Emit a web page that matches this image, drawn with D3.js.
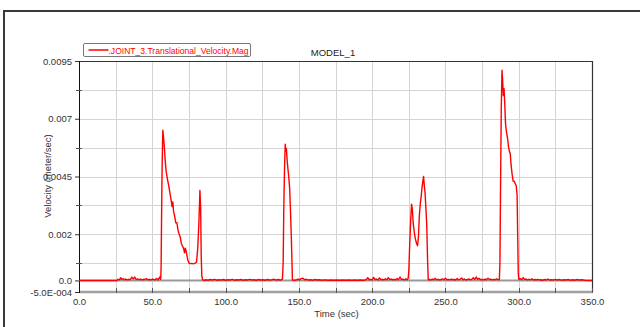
<!DOCTYPE html>
<html lang="en">
<head>
    <meta charset="UTF-8">
    <title>MODEL_1</title>
    <script src="https://cdnjs.cloudflare.com/ajax/libs/d3/7.8.5/d3.min.js"></script>
    <style>
        body {
            margin: 0;
            background: #fff;
        }

        svg {
            display: block;
            font-family: "Liberation Sans", Arial, sans-serif;
        }

        .grid line {
            stroke: #d4d4d4;
            stroke-width: 1;
        }

        .tick text {
            fill: #333;
            font-size: 9.5px;
        }

        .axis-label {
            fill: #333;
            font-size: 9.5px;
            text-anchor: middle;
        }
    </style>
</head>
<body>
    <div id="wrapper"></div>
    <script>
        // ---- data ----
        const seriesName = '.JOINT_3.Translational_Velocity.Mag'
        const chartTitle = 'MODEL_1'
        const xLabel = 'Time (sec)'
        const yLabel = 'Velocity (meter/sec)'

        const xTickValues = [0, 50, 100, 150, 200, 250, 300, 350]
        const xGridValues = [0, 25, 50, 75, 100, 125, 150, 175, 200, 225, 250, 275, 300, 325, 350]
        const yTickValues = [0.0095, 0.007, 0.0045, 0.002, 0.0, -0.0005]
        const yTickLabels = ['0.0095', '0.007', '0.0045', '0.002', '0.0', '-5.0E-004']
        const yGridValues = [0.0095, 0.00825, 0.007, 0.00575, 0.0045, 0.00325, 0.002, 0.00075, -0.0005]

        // [time (sec), velocity (m/s)]
        const quietStart = [
            [0, 0], [26, 0], [26.5, 0.00005], [27.5, 0.00002], [28.5, 0.00012], [29, 0.00004],
            [30, 0.00008], [31, 0.00003], [32, 0.00006], [33, 0.00002], [34, 0.00005],
            [35, 0.00003], [36, 0.00014], [37, 0.00006], [38, 0.00015], [39, 0.00004],
            [40, 0.00007], [41, 0.00003], [42, 0.00006], [43, 0.00002], [44, 0.00005],
            [45, 0.00004], [46, 0.00008], [47, 0.00003], [48, 0.00005], [49, 0.00002],
            [50, 0.00006], [51, 0.00004], [52, 0.00003], [53, 0.00009], [54, 0.00002],
            [55, 0.00015], [55.7, 0.00004]
        ]
        const pulse1 = [
            [56.0, 0.0005], [56.3, 0.0025], [56.7, 0.0049], [57.2, 0.0065], [57.7, 0.0062],
            [58.2, 0.0058], [58.8, 0.0052], [59.5, 0.0047], [60.3, 0.0044], [61.2, 0.0041],
            [62.0, 0.0038], [62.8, 0.0035], [63.5, 0.0032], [64.0, 0.0034], [64.5, 0.0030],
            [65.2, 0.0028], [66.0, 0.0025], [66.8, 0.0025], [67.5, 0.0022], [68.3, 0.0020],
            [69.0, 0.0019], [69.8, 0.0016], [70.5, 0.0015], [71.3, 0.0014], [72.0, 0.0012],
            [72.5, 0.0014], [73.0, 0.0013], [73.6, 0.0011], [74.2, 0.0009], [75.0, 0.00075],
            [76.0, 0.00073], [77.0, 0.00074], [78.0, 0.00072], [79.0, 0.00074], [80.2, 0.0008],
            [81.0, 0.0014], [81.8, 0.0025], [82.5, 0.0039], [83.0, 0.0031], [83.4, 0.0010],
            [83.8, 0.0002], [84.3, 0.00003]
        ]
        const quietMid1 = [
            [85.5, 0], [86.5, 0.00003], [88, 0.00001], [89.5, 0.00004], [91, 0.00002],
            [92.5, 0.00005], [94, 0.00001], [95.5, 0.00003], [97, 0.00002], [98.5, 0.00004],
            [100, 0.00001], [101.5, 0.00003], [103, 0.00002], [104.5, 0.00005], [106, 0.00001],
            [107.5, 0.00003], [109, 0.00002], [110.5, 0.00004], [112, 0.00001], [113.5, 0.00003],
            [115, 0.00002], [116.5, 0.00005], [118, 0.00002], [119.5, 0.00003], [121, 0.00001],
            [122.5, 0.00004], [124, 0.00002], [125.5, 0.00003], [127, 0.00001], [128.5, 0.00004],
            [130, 0.00002], [131.5, 0.00003], [133, 0.00005], [134.5, 0.00002], [136, 0.00004],
            [137.5, 0.00001], [138.8, 0.00006]
        ]
        const pulse2 = [
            [139.3, 0.0008], [139.7, 0.0030], [140.2, 0.0048], [140.7, 0.0059], [141.1, 0.0056],
            [141.5, 0.0057], [142.0, 0.0052], [142.6, 0.0048], [143.1, 0.0045], [143.7, 0.0040],
            [144.3, 0.0030], [144.9, 0.0018], [145.3, 0.0008], [145.6, 0.00002]
        ]
        const quietMid2 = [
            [147, 0.00001], [148.5, 0.00003], [149.5, 0.00006], [150.5, 0.00002], [151.5, 0.00008],
            [152.8, 0.0001], [153.8, 0.00003], [155, 0.00005], [156.5, 0.00002], [158, 0.00003],
            [159.5, 0.00001], [161, 0.00004], [162.5, 0.00002], [164, 0.00003], [165.5, 0.00001],
            [167, 0.00002], [168.5, 0.00002], [170, 0.00001], [172, 0.00002], [174, 0.00001],
            [176, 0.00002], [178, 0.00001], [180, 0.00002], [182, 0.00001], [184, 0.00002],
            [186, 0.00001], [188, 0.00002], [190, 0.00001], [192, 0.00002], [194, 0.00001],
            [196, 0.00003], [197, 0.00012], [198, 0.00003], [199, 0.00005], [200, 0.00002],
            [201, 0.00013], [202, 0.00004], [203, 0.00006], [204, 0.00002], [205, 0.00011],
            [206, 0.00003], [207, 0.00005], [208, 0.00002], [209, 0.00007], [210, 0.00003],
            [211, 0.00012], [212, 0.00004], [213, 0.00006], [214, 0.00003], [215, 0.00005],
            [216, 0.00002], [217, 0.00008], [218, 0.00003], [219, 0.00015], [220, 0.00004],
            [221, 0.00006], [222, 0.00002], [223, 0.00007], [224, 0.00003], [224.6, 0.0001]
        ]
        const pulse3 = [
            [225.0, 0.0004], [225.6, 0.0015], [226.3, 0.0026], [226.9, 0.0033], [227.4, 0.0031],
            [228.0, 0.0025], [228.7, 0.0021], [229.5, 0.0018], [230.3, 0.0016], [231.0, 0.0015],
            [231.6, 0.0019], [232.2, 0.0028], [232.8, 0.0033], [233.4, 0.0036], [234.0, 0.0040],
            [234.6, 0.0043], [235.1, 0.0045], [235.6, 0.0041], [236.1, 0.0038], [236.7, 0.0031],
            [237.2, 0.0025], [237.6, 0.0015], [237.9, 0.0007], [238.3, 0.00003]
        ]
        const quietMid3 = [
            [239, 0.00004], [240, 0.00002], [241, 0.00006], [242, 0.00003], [243, 0.00009],
            [244, 0.00003], [245, 0.00005], [246, 0.00002], [247, 0.00004], [248, 0.00007],
            [249, 0.00003], [250, 0.0001], [251, 0.00003], [252, 0.00005], [253, 0.00002],
            [254, 0.00006], [255, 0.00003], [256, 0.00004], [257, 0.00002], [258, 0.00008],
            [259, 0.00003], [260, 0.00005], [261, 0.00011], [262, 0.00003], [263, 0.00006],
            [264, 0.00002], [265, 0.00004], [266, 0.00007], [267, 0.00003], [268, 0.00005],
            [269, 0.00012], [270, 0.00004], [271, 0.00015], [272, 0.00005], [273, 0.00009],
            [274, 0.00003], [275, 0.00005], [276, 0.00002], [277, 0.00006], [278, 0.00003],
            [279, 0.0001], [280, 0.00004], [281, 0.00006], [282, 0.00002], [283, 0.00005],
            [284, 0.00003], [285, 0.00007], [286, 0.00003], [286.8, 0.00005]
        ]
        const pulse4 = [
            [287.2, 0.0008], [287.6, 0.0040], [288.1, 0.0075], [288.6, 0.0091], [289.0, 0.0087],
            [289.5, 0.0080], [290.0, 0.0083], [290.5, 0.0076], [291.0, 0.0068], [291.5, 0.0065],
            [292.0, 0.0063], [292.5, 0.0061], [293.0, 0.0058], [293.6, 0.0056], [294.2, 0.0055],
            [294.8, 0.0050], [295.5, 0.0046], [296.2, 0.0043], [296.9, 0.0043], [297.6, 0.0042],
            [298.3, 0.0041], [298.9, 0.0037], [299.3, 0.0020], [299.7, 0.0003], [300.1, 0.00004]
        ]
        const quietEnd = [
            [301, 0.00008], [302, 0.00003], [303, 0.00012], [304, 0.00004], [305, 0.00006],
            [306, 0.00002], [307, 0.00005], [308, 0.00003], [309, 0.00007], [310, 0.00002],
            [311, 0.00004], [312, 0.00002], [313, 0.00005], [314, 0.00002], [315, 0.00003],
            [316, 0.00001], [318, 0.00004], [319, 0.00002], [320, 0.00006], [321, 0.00002],
            [322, 0.00003], [324, 0.00002], [325, 0.00005], [326, 0.00002], [328, 0.00004],
            [329, 0.00001], [331, 0.00003], [332, 0.00002], [334, 0.00004], [335, 0.00001],
            [337, 0.00003], [338, 0.00001], [340, 0.00004], [341, 0.00002], [343, 0.00003],
            [345, 0.00001], [350, 0]
        ]

        function drawChart() {
            const dataset = [].concat(quietStart, pulse1, quietMid1, pulse2, quietMid2,
                pulse3, quietMid3, pulse4, quietEnd)
            const xAccessor = d => d[0]
            const yAccessor = d => d[1]

            let dimensions = {
                width: 640,
                height: 327,
                margin: { top: 61, right: 48, bottom: 35, left: 79 }
            }
            dimensions.boundedWidth = dimensions.width - dimensions.margin.left - dimensions.margin.right
            dimensions.boundedHeight = dimensions.height - dimensions.margin.top - dimensions.margin.bottom

            const wrapper = d3.select('#wrapper')
                .append('svg')
                    .attr('width', dimensions.width)
                    .attr('height', dimensions.height)

            // outer window frame
            wrapper.append('rect')
                .attr('x', 4)
                .attr('y', 11)
                .attr('width', 700)
                .attr('height', 400)
                .attr('fill', 'none')
                .attr('stroke', '#3a3a3a')
                .attr('stroke-width', 2)

            const bounds = wrapper.append('g')
                .attr('transform', `translate(${dimensions.margin.left},${dimensions.margin.top})`)

            const xScale = d3.scaleLinear()
                .domain([0, 350])
                .range([0, dimensions.boundedWidth])

            const yScale = d3.scaleLinear()
                .domain([-0.0005, 0.0095])
                .range([dimensions.boundedHeight, 0])

            // grid
            const grid = bounds.append('g').attr('class', 'grid')
            grid.selectAll('.vgrid')
                .data(xGridValues)
                .join('line')
                    .attr('x1', d => Math.round(xScale(d)) + 0.5)
                    .attr('x2', d => Math.round(xScale(d)) + 0.5)
                    .attr('y1', 0)
                    .attr('y2', dimensions.boundedHeight)
            grid.selectAll('.hgrid')
                .data(yGridValues)
                .join('line')
                    .attr('x1', 0)
                    .attr('x2', dimensions.boundedWidth)
                    .attr('y1', d => Math.round(yScale(d)) + 0.5)
                    .attr('y2', d => Math.round(yScale(d)) + 0.5)

            // zero line
            bounds.append('line')
                .attr('x1', 0)
                .attr('x2', dimensions.boundedWidth)
                .attr('y1', yScale(0))
                .attr('y2', yScale(0))
                .attr('stroke', '#9a9a9a')
                .attr('stroke-width', 2)

            // top + right border
            bounds.append('path')
                .attr('d', `M0,0.5H${dimensions.boundedWidth + 0.5}V${dimensions.boundedHeight}`)
                .attr('fill', 'none')
                .attr('stroke', '#333')
                .attr('stroke-width', 1.2)

            // bottom axis
            const xAxisGenerator = d3.axisBottom(xScale)
                .tickValues(xTickValues)
                .tickFormat(d3.format('.1f'))
                .tickSize(0)
                .tickPadding(6)
            const xAxis = bounds.append('g')
                .attr('transform', `translateY(0)`)
                .attr('transform', `translate(0,${dimensions.boundedHeight})`)
                .call(xAxisGenerator)
            xAxis.select('.domain').remove()
            xAxis.append('line')
                .attr('x1', 0)
                .attr('x2', dimensions.boundedWidth)
                .attr('stroke', '#a0a0a0')
                .attr('stroke-width', 2.5)
            xAxis.selectAll('.minor-tick')
                .data(xGridValues.slice(1))
                .join('line')
                    .attr('x1', d => Math.round(xScale(d)) + 0.5)
                    .attr('x2', d => Math.round(xScale(d)) + 0.5)
                    .attr('y1', -4)
                    .attr('y2', 1)
                    .attr('stroke', '#555')
            xAxis.selectAll('.tick text').attr('fill', '#333').style('font-size', '9.5px')

            // left axis
            const yAxisGenerator = d3.axisLeft(yScale)
                .tickValues(yTickValues)
                .tickFormat((d, i) => yTickLabels[i])
                .tickSize(4)
                .tickPadding(3)
            const yAxis = bounds.append('g')
                .call(yAxisGenerator)
            yAxis.select('.domain')
                .attr('d', `M0.5,0V${dimensions.boundedHeight + 1}`)
                .attr('stroke', '#111')
            yAxis.selectAll('.tick line').attr('stroke', '#333')
            yAxis.selectAll('.minor-tick')
                .data(yGridValues.filter(d => !yTickValues.includes(d)))
                .join('line')
                    .attr('x1', -3)
                    .attr('x2', 3)
                    .attr('y1', d => Math.round(yScale(d)) + 0.5)
                    .attr('y2', d => Math.round(yScale(d)) + 0.5)
                    .attr('stroke', '#555')

            // series line
            const lineGenerator = d3.line()
                .x(d => xScale(xAccessor(d)))
                .y(d => yScale(yAccessor(d)))
            bounds.append('path')
                .attr('d', lineGenerator(dataset))
                .attr('fill', 'none')
                .attr('stroke', '#ff0000')
                .attr('stroke-width', 1.4)
                .attr('stroke-linejoin', 'round')

            // axis labels
            wrapper.append('text')
                .attr('class', 'axis-label')
                .attr('x', dimensions.margin.left + dimensions.boundedWidth / 2 + 1)
                .attr('y', 317)
                .text(xLabel)

            wrapper.append('text')
                .attr('class', 'axis-label')
                .attr('transform', 'translate(51,176) rotate(-90)')
                .text(yLabel)

            // title
            wrapper.append('text')
                .attr('x', 333)
                .attr('y', 56)
                .attr('fill', '#222')
                .style('font-size', '9.5px')
                .style('text-anchor', 'middle')
                .text(chartTitle)

            // legend
            const legend = wrapper.append('g')
                .attr('transform', 'translate(83.5,43.5)')
            legend.append('rect')
                .attr('width', 167)
                .attr('height', 13)
                .attr('rx', 1.5)
                .attr('fill', '#fff')
                .attr('stroke', '#777')
            legend.append('line')
                .attr('x1', 5)
                .attr('x2', 25)
                .attr('y1', 6.5)
                .attr('y2', 6.5)
                .attr('stroke', '#ff0000')
                .attr('stroke-width', 1.5)
            legend.append('text')
                .attr('x', 25)
                .attr('y', 10)
                .attr('fill', '#ff0000')
                .attr('textLength', 140)
                .attr('lengthAdjust', 'spacingAndGlyphs')
                .style('font-size', '9.5px')
                .text(seriesName)
        }

        drawChart()
    </script>
</body>
</html>
